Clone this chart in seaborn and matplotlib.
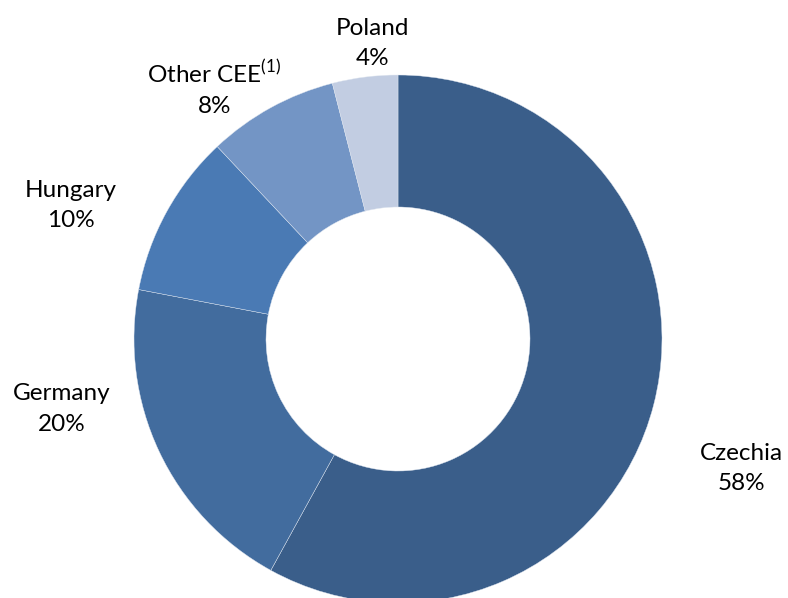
import matplotlib
matplotlib.use("Agg")
import matplotlib.pyplot as plt
import seaborn as sns

# data
countries = ['Czechia', 'Germany', 'Hungary', 'Other CEE$^{\\mathregular{(1)}}$', 'Poland']
shares = [58, 20, 10, 8, 4]
colors = ['#3A5E8A', '#426C9E', '#4A7AB4', '#7395C5', '#C2CDE2']

# label centres (data units, pie radius = 1)
label_pos = [(1.30, -0.49), (-1.275, -0.265), (-1.24, 0.505), (-0.695, 0.95), (-0.098, 1.12)]

sns.set_theme(style='white')
plt.rcParams['font.family'] = ['Lato', 'DejaVu Sans']

fig = plt.figure(figsize=(7.88, 5.98), dpi=100)
ax = fig.add_axes([0, 0, 1, 1])

wedges, _ = ax.pie(shares, colors=colors, startangle=90, counterclock=False,
                   radius=1.0, wedgeprops=dict(width=0.5, edgecolor='#dfe6f0', linewidth=0.3))

for name, val, (x, y) in zip(countries, shares, label_pos):
    ax.text(x, y, f'{name}\n{val}%', ha='center', va='center', fontsize=17.5,
            color='black', linespacing=1.55)

ax.set_aspect('equal')
ax.set_xlim(-398 / 264, 390 / 264)
ax.set_ylim(-(598 - 339) / 264, 339 / 264)
ax.axis('off')

fig.savefig('out.png', dpi=100)
